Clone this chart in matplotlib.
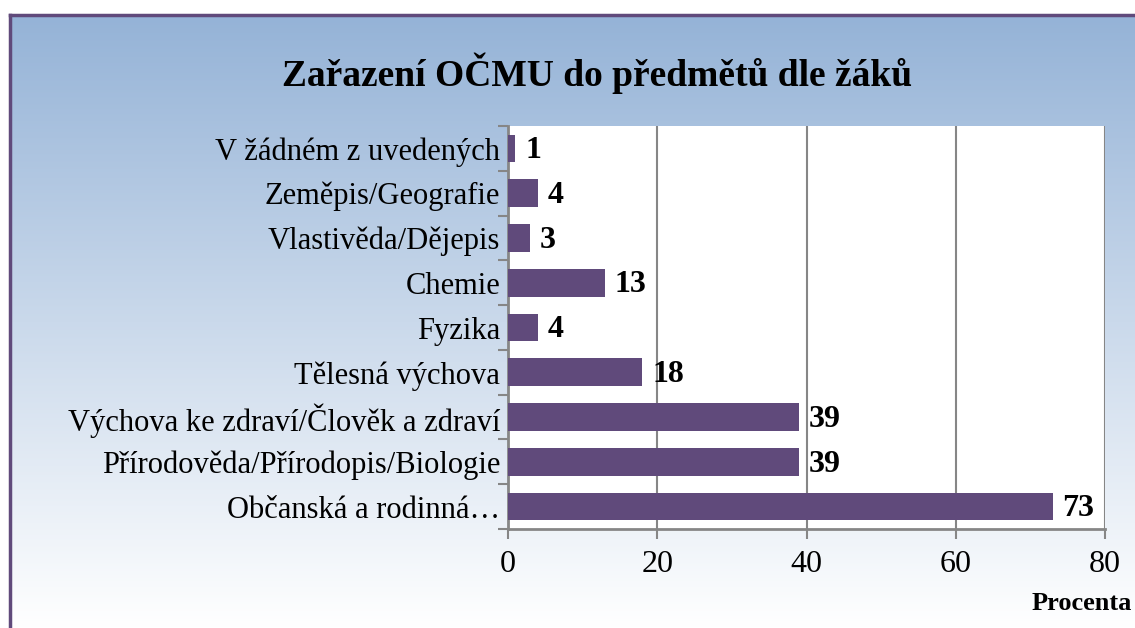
import numpy as np
import matplotlib.pyplot as plt
from matplotlib.lines import Line2D

categories = [
    'V žádném z uvedených',
    'Zeměpis/Geografie',
    'Vlastivěda/Dějepis',
    'Chemie',
    'Fyzika',
    'Tělesná výchova',
    'Výchova ke zdraví/Člověk a zdraví',
    'Přírodověda/Přírodopis/Biologie',
    'Občanská a rodinná…',
]
values = [1, 4, 3, 13, 4, 18, 39, 39, 73]
x_ticks = [0, 20, 40, 60, 80]

plt.rcParams['font.family'] = ['Liberation Serif', 'DejaVu Serif']

W, H = 1135, 628
fig = plt.figure(figsize=(W / 100, H / 100), dpi=100)
fig.patch.set_facecolor('white')

# gradient background inside the purple frame
bg = fig.add_axes([11 / W, 0, 1 - 11 / W, 1 - 16 / H], zorder=-2)
grad = np.linspace(0, 1, 256).reshape(-1, 1)
top = np.array([149, 179, 215]) / 255
bottom = np.array([255, 255, 255]) / 255
img = top + (bottom - top) * grad[:, :, None]
bg.imshow(img, aspect='auto', extent=[0, 1, 0, 1])
bg.axis('off')

frame_col = '#604A7B'
fig.add_artist(Line2D([9.5 / W, 9.5 / W], [0, 1 - 14.5 / H], color=frame_col, lw=2.5,
                      transform=fig.transFigure))
fig.add_artist(Line2D([9.5 / W, 1], [1 - 14.5 / H, 1 - 14.5 / H], color=frame_col, lw=2.5,
                      transform=fig.transFigure))

ax = fig.add_axes([508 / W, 1 - 529 / H, (1105 - 508) / W, (529 - 126) / H])
ax.set_facecolor('white')

y = np.arange(len(categories))[::-1]
ax.barh(y, values, height=0.62, color='#604A7B', zorder=3)
for yi, v in zip(y, values):
    ax.text(v + 1.3, yi - 0.05, str(v), va='center', ha='left', fontsize=23,
            fontweight='bold', zorder=4)

ax.set_xlim(0, 80)
ax.set_ylim(-0.5, len(categories) - 0.5)
ax.set_xticks(x_ticks)
ax.set_xticklabels([str(t) for t in x_ticks], fontsize=23)
ax.set_yticks(y)
ax.set_yticklabels(categories, fontsize=22)
ax.set_yticks(np.arange(len(categories) + 1) - 0.5, minor=True)

grid_col = '#868686'
ax.xaxis.grid(True, color=grid_col, lw=1.5, zorder=1)
ax.tick_params(axis='y', which='major', length=0, pad=5.5)
ax.tick_params(axis='y', which='minor', length=7, width=1.5, color=grid_col, direction='out')
ax.tick_params(axis='x', length=7, width=1.5, color=grid_col, direction='out', pad=8)
for s in ['top', 'right']:
    ax.spines[s].set_visible(False)
for s in ['left', 'bottom']:
    ax.spines[s].set_color(grid_col)
    ax.spines[s].set_linewidth(2)

fig.text(597 / W, 1 - 73 / H, 'Zařazení OČMU do předmětů dle žáků', ha='center',
         va='center', fontsize=27, fontweight='bold')
fig.text(1132 / W, 1 - 603 / H, 'Procenta', ha='right', va='center', fontsize=19,
         fontweight='bold')

fig.savefig('out.png', dpi=100)
